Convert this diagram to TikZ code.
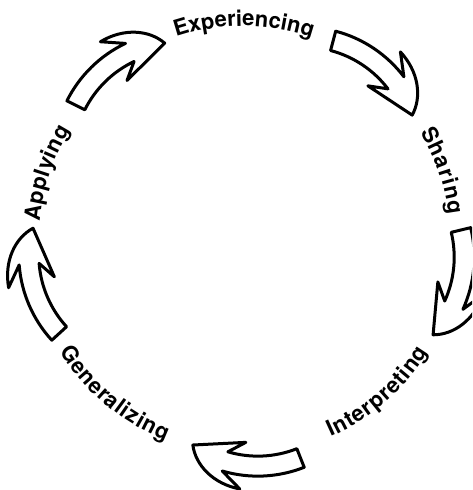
\documentclass[tikz,border=0pt]{standalone}
\usepackage{fontspec}
\setmainfont{TeX Gyre Heros}
\usetikzlibrary{calc,decorations.text}

% type used for the five stage labels
\newcommand\cyclelabelfont{\fontsize{22}{24}\selectfont\bfseries}

\tikzset{
  arrowline/.style={draw=black, line width=3pt, line join=round, fill=white},
  % label set along a path, each letter padded by #2 on either side
  stagetext/.style 2 args={decorate, decoration={text effects along path,
      text={#1}, text align=center,
      text effects/.cd, text along path,
      characters={font=\cyclelabelfont, inner sep=0pt},
      character widths={font=\cyclelabelfont, inner xsep=#2, inner ysep=0pt}}},
  % hollow curved block arrow; local origin = middle of the tail-tip chord,
  % tail at (0,54), tip at (0,-54), outer side towards +x
  cyclearrow/.pic={
    \begin{scope}[shift={(-101.5,0)}]
      \draw[arrowline] (28:126) arc[start angle=28, end angle=-10, radius=126]
        -- (-1:140) .. controls (-12:141) and (-22:131) .. (-28:115)
        -- (-1:93) -- (-10:106)
        arc[start angle=-10, end angle=28, radius=106] -- cycle;
    \end{scope}
  }
}

\begin{document}
\begin{tikzpicture}[x=1pt, y=1pt]
  \useasboundingbox (0,0) rectangle (472,490);
  \clip (0,0) rectangle (472,490);
  \coordinate (C) at (244,251);

  % stage labels set along the circle
  \path[stagetext={Experiencing}{0pt}] ($(C)+(130:213)$) arc[start angle=130, end angle=50, radius=213];
  \path[stagetext={Sharing}{0.5pt}] ($(C)+(58:206)$) arc[start angle=58, end angle=-20, radius=206];
  \path[stagetext={Interpreting}{0.4pt}] ($(C)+(-89:216)$) arc[start angle=-89, end angle=-9, radius=216];
  \path[stagetext={Generalizing}{0.4pt}] ($(C)+(-170:216)$) arc[start angle=-170, end angle=-90, radius=216];
  \path[stagetext={Applying}{0.2pt}] ($(C)+(201.5:205)$) arc[start angle=201.5, end angle=121.5, radius=205];

  % arrows between the stages, clockwise
  \pic (toExperiencing) [rotate=125.44] at (120.75,415.5) {cyclearrow};
  \pic (toSharing) [rotate=47.26] at (372.5,411.5) {cyclearrow};
  \pic (toInterpreting) [rotate=-14.42] at (446.5,207.5) {cyclearrow};
  \pic (toGeneralizing) [rotate=-96.4] at (246.5,39) {cyclearrow};
  \pic (toApplying) [rotate=-165.58] at (46.5,209.5) {cyclearrow};
\end{tikzpicture}
\end{document}
